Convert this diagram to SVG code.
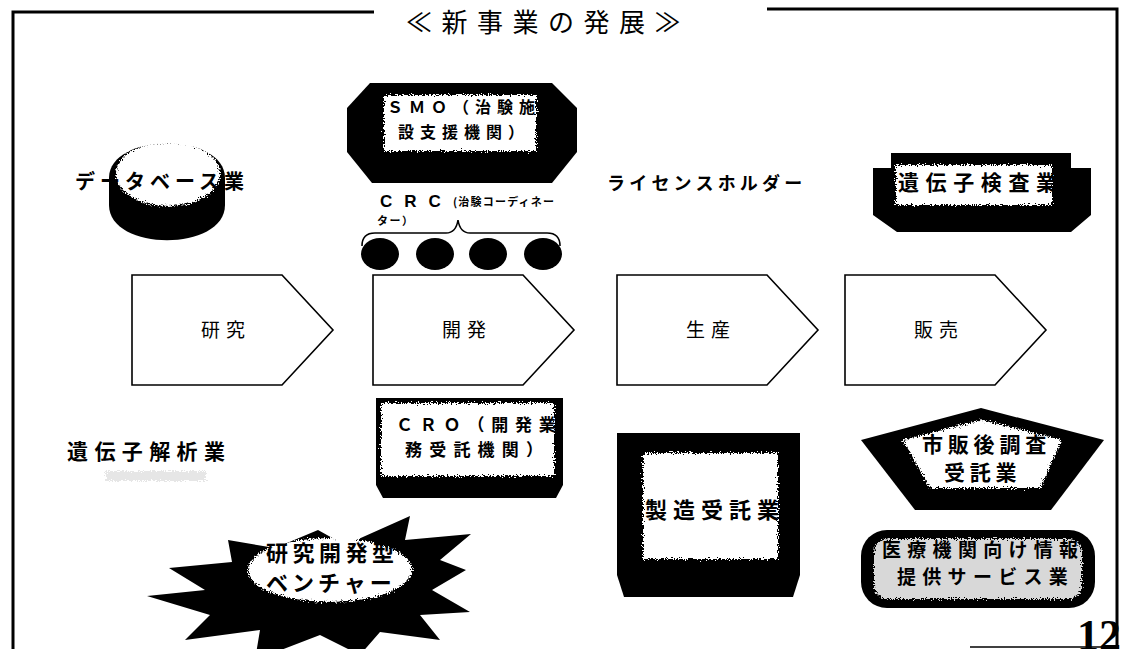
<svg xmlns="http://www.w3.org/2000/svg" width="1128" height="649" viewBox="0 0 1128 649">
<defs>
<filter id="fz" x="-10%" y="-10%" width="120%" height="120%">
<feTurbulence type="fractalNoise" baseFrequency="0.7" numOctaves="2" seed="3" result="n"/>
<feDisplacementMap in="SourceGraphic" in2="n" scale="8" xChannelSelector="R" yChannelSelector="G"/>
</filter>
<style>
.jb{font-family:"Noto Sans CJK JP","Noto Sans CJK SC",sans-serif;font-weight:700;fill:#000}
.jn{font-family:"Noto Sans CJK JP","Noto Sans CJK SC",sans-serif;font-weight:400;fill:#000}
.blk{fill:#000}
.wf{fill:#fff;filter:url(#fz)}
.step{fill:#fff;stroke:#000;stroke-width:1.6;stroke-linejoin:miter}
.bd{stroke:#000;fill:none}
</style>
</defs>
<rect width="1128" height="649" fill="#fff"/>

<g id="frame">
<path class="bd" stroke-width="3" d="M13,649 L13,12 L374,12"/>
<path class="bd" stroke-width="3" d="M767,9 L1117,9 L1117,649"/>
<path class="bd" stroke-width="1.5" d="M970,647 L1117,647"/>
<text class="jn" x="406" y="32" font-size="26" letter-spacing="9.5">≪新事業の発展≫</text>
<text x="1077" y="650" font-family="Liberation Serif,serif" font-weight="700" font-size="44">12</text>
</g>

<g id="connectors">
<path class="bd" stroke-width="1.6" d="M362,246 Q362,233 375,233 L446,233 Q456,233 458,220 Q460,233 470,233 L547,233 Q560,233 560,246"/>
</g>

<g id="step-kenkyu">
<polygon class="step" points="132,275 282,275 333,330 282,385 132,385"/>
<text class="jn" x="226" y="337" font-size="19" letter-spacing="6" text-anchor="middle">研究</text>
</g>
<g id="step-kaihatsu">
<polygon class="step" points="373,275 523,275 574,330 523,385 373,385"/>
<text class="jn" x="467" y="337" font-size="19" letter-spacing="6" text-anchor="middle">開発</text>
</g>
<g id="step-seisan">
<polygon class="step" points="617,275 767,275 818,330 767,385 617,385"/>
<text class="jn" x="711" y="337" font-size="19" letter-spacing="6" text-anchor="middle">生産</text>
</g>
<g id="step-hanbai">
<polygon class="step" points="845,275 995,275 1046,330 995,385 845,385"/>
<text class="jn" x="939" y="337" font-size="19" letter-spacing="6" text-anchor="middle">販売</text>
</g>

<g id="database">
<path class="blk" d="M109,178 C109,132 225,132 225,178 L225,205 C225,252 109,252 109,205 Z"/>
<ellipse class="wf" cx="168" cy="174" rx="52" ry="32"/>
<text class="jb" x="75" y="189" font-size="20" letter-spacing="5">データベース業</text>
</g>

<g id="smo">
<polygon class="blk" points="370,83 552,83 577,108 577,152 552,183 372,183 347,152 347,108"/>
<rect class="wf" x="384" y="95" width="152" height="56"/>
<text class="jb" x="387" y="113" font-size="16" letter-spacing="6">ＳＭＯ（治験施</text>
<text class="jb" x="398" y="138" font-size="16" letter-spacing="6">設支援機関）</text>
</g>

<g id="crc">
<text x="380" y="207" font-family="Liberation Sans,Arial,sans-serif" font-weight="700" font-size="17" letter-spacing="12">CRC</text>
<text class="jb" x="453" y="206" font-size="11" letter-spacing="1.2">(治験コーディネー</text>
<text class="jb" x="377" y="225" font-size="11" letter-spacing="1.5">ター）</text>
<ellipse class="blk" cx="380" cy="254" rx="19" ry="16"/>
<ellipse class="blk" cx="435" cy="254" rx="19" ry="16"/>
<ellipse class="blk" cx="488" cy="254" rx="19" ry="16"/>
<ellipse class="blk" cx="543" cy="254" rx="19" ry="16"/>
</g>

<g id="license">
<text class="jb" x="607" y="190" font-size="18" letter-spacing="4.2">ライセンスホルダー</text>
</g>

<g id="gene-test">
<polygon class="blk" points="891,153 1071,153 1071,168 1091,168 1091,215 1071,232 897,232 873,215 873,168 891,168"/>
<rect class="wf" x="896" y="165" width="156" height="40"/>
<text class="jb" x="898" y="190" font-size="21" letter-spacing="6.6">遺伝子検査業</text>
</g>

<g id="gene-analysis">
<text class="jb" x="67" y="459" font-size="21" letter-spacing="6.4">遺伝子解析業</text>
<rect x="106" y="471" width="100" height="10" fill="#e6e6e6" filter="url(#fz)"/>
</g>

<g id="cro">
<polygon class="blk" points="376,398 563,398 563,485 556,498 383,498 376,485"/>
<rect class="wf" x="381" y="403" width="173" height="73"/>
<text class="jb" x="396" y="431" font-size="17" letter-spacing="6.8">ＣＲＯ（開発業</text>
<text class="jb" x="405" y="456" font-size="17" letter-spacing="7.2">務受託機関）</text>
</g>

<g id="venture">
<polygon class="blk" points="147,596 205,590 169,568 232,562 228,540 275,548 318,530 345,545 410,516 405,540 471,534 440,560 466,570 432,590 470,612 420,615 440,640 380,632 360,655 320,635 255,660 260,630 185,640 210,615"/>
<ellipse class="wf" cx="330" cy="570" rx="82" ry="32"/>
<text class="jb" x="266" y="561" font-size="22" letter-spacing="4.5">研究開発型</text>
<text class="jb" x="266" y="591" font-size="22" letter-spacing="4">ベンチャー</text>
</g>

<g id="manufacturing">
<polygon class="blk" points="617,433 800,433 800,575 793,597 624,597 617,575"/>
<rect class="wf" x="643" y="453" width="135" height="106"/>
<text class="jb" x="645" y="518" font-size="22" letter-spacing="6">製造受託業</text>
</g>

<g id="post-marketing">
<polygon class="blk" points="981,408 1104,440 1051,510 915,510 861,440"/>
<polygon class="wf" points="982,420 1062,440 1040,488 930,488 903,440"/>
<text class="jb" x="922" y="452" font-size="21" letter-spacing="4.8">市販後調査</text>
<text class="jb" x="944" y="480" font-size="21" letter-spacing="4.8">受託業</text>
</g>

<g id="medical-info">
<rect class="blk" x="861" y="530" width="234" height="78" rx="26"/>
<rect x="874" y="539" width="208" height="60" rx="14" fill="#d8d8d8" filter="url(#fz)"/>
<text class="jb" x="882" y="557" font-size="19" letter-spacing="6.3">医療機関向け情報</text>
<text class="jb" x="897" y="584" font-size="19" letter-spacing="6.3">提供サービス業</text>
</g>
</svg>
